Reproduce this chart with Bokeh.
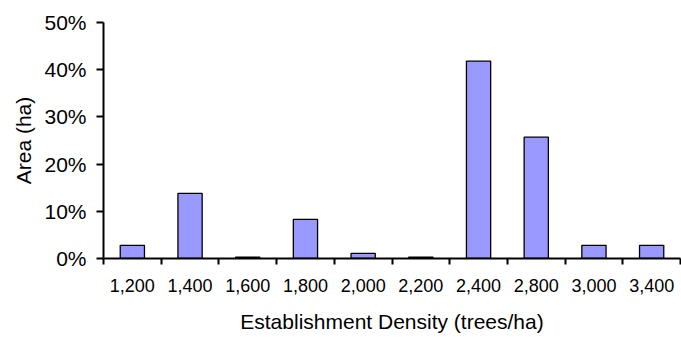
from bokeh.plotting import figure
from bokeh.models import ColumnDataSource, FixedTicker, NumeralTickFormatter, Range1d
from bokeh.embed import file_html
from bokeh.resources import INLINE

# Share of plantation area by establishment density
densities = ["1,200", "1,400", "1,600", "1,800", "2,000", "2,200", "2,400", "2,800", "3,000", "3,400"]
area_share = [0.028, 0.138, 0.003, 0.083, 0.011, 0.003, 0.418, 0.257, 0.028, 0.028]
y_ticks = [0.0, 0.1, 0.2, 0.3, 0.4, 0.5]

FONT = "Liberation Sans"
n = len(densities)
centers = [i + 0.5 for i in range(n)]

source = ColumnDataSource(data=dict(x=centers, top=area_share, label=densities))

p = figure(
    width=681, height=337,
    x_range=Range1d(0, n), y_range=Range1d(0, 0.5),
    output_backend="svg", toolbar_location=None,
    min_border_left=103, min_border_right=1,
    min_border_top=22, min_border_bottom=79,
)
p.outline_line_color = None
p.grid.visible = False
p.background_fill_color = "white"
p.border_fill_color = "white"

p.vbar(x="x", top="top", bottom=0, width=0.42, source=source,
       fill_color="#9999FF", line_color="black", line_width=1.3)

# x axis: labels under each bar, tick marks between categories
xax = p.xaxis[0]
xax.ticker = FixedTicker(ticks=centers, minor_ticks=list(range(n + 1)))
xax.major_label_overrides = {c: d for c, d in zip(centers, densities)}
xax.major_tick_out = 0
xax.major_tick_in = 0
xax.minor_tick_out = 6
xax.minor_tick_in = 0
xax.minor_tick_line_width = 2
xax.minor_tick_line_color = "black"
xax.axis_line_width = 2
xax.axis_line_color = "black"
xax.major_label_text_font = FONT
xax.major_label_text_font_size = "18px"
xax.major_label_text_color = "black"
xax.major_label_standoff = 14
xax.axis_label = "Establishment Density (trees/ha)"
xax.axis_label_text_font = FONT
xax.axis_label_text_font_size = "21px"
xax.axis_label_text_font_style = "normal"
xax.axis_label_text_color = "black"
xax.axis_label_standoff = 15

# y axis: percentage scale
yax = p.yaxis[0]
yax.ticker = FixedTicker(ticks=y_ticks)
yax.formatter = NumeralTickFormatter(format="0%")
yax.major_tick_out = 7
yax.major_tick_in = 0
yax.minor_tick_out = 0
yax.minor_tick_in = 0
yax.major_tick_line_width = 2
yax.axis_line_width = 2
yax.axis_line_color = "black"
yax.major_label_text_font = FONT
yax.major_label_text_font_size = "21px"
yax.major_label_text_color = "black"
yax.major_label_standoff = 10
yax.axis_label = "Area (ha)"
yax.axis_label_text_font = FONT
yax.axis_label_text_font_size = "21px"
yax.axis_label_text_font_style = "normal"
yax.axis_label_text_color = "black"
yax.axis_label_standoff = 6

open("out.html", "w").write(file_html(p, INLINE))
